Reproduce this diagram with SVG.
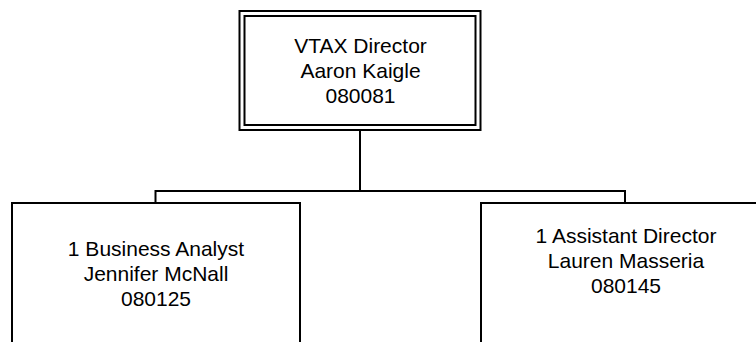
<svg xmlns="http://www.w3.org/2000/svg" width="756" height="342" viewBox="0 0 756 342">
<style>
.box{fill:#fff;stroke:#000;stroke-width:2}
.conn{fill:none;stroke:#000;stroke-width:2}
text{font-family:"Liberation Sans",Arial,sans-serif;font-size:21px;fill:#000;text-anchor:middle}
</style>
<rect width="756" height="342" fill="#fff"/>
<g id="connectors">
<path class="conn" d="M360 130 V191 M155.5 203 V191 H625 V203"/>
</g>
<g id="node-director">
<rect class="box" x="239.5" y="11" width="241" height="119"/>
<rect class="box" x="244.5" y="16" width="231" height="109"/>
<text x="360.5" y="53">VTAX Director</text>
<text x="360.5" y="78">Aaron Kaigle</text>
<text x="360.5" y="103">080081</text>
</g>
<g id="node-analyst">
<rect class="box" x="12" y="203" width="288" height="160"/>
<text x="156" y="256">1 Business Analyst</text>
<text x="156" y="281">Jennifer McNall</text>
<text x="156" y="306">080125</text>
</g>
<g id="node-assistant">
<rect class="box" x="481" y="203" width="290" height="160"/>
<text x="626" y="243">1 Assistant Director</text>
<text x="626" y="268">Lauren Masseria</text>
<text x="626" y="293">080145</text>
</g>
</svg>
